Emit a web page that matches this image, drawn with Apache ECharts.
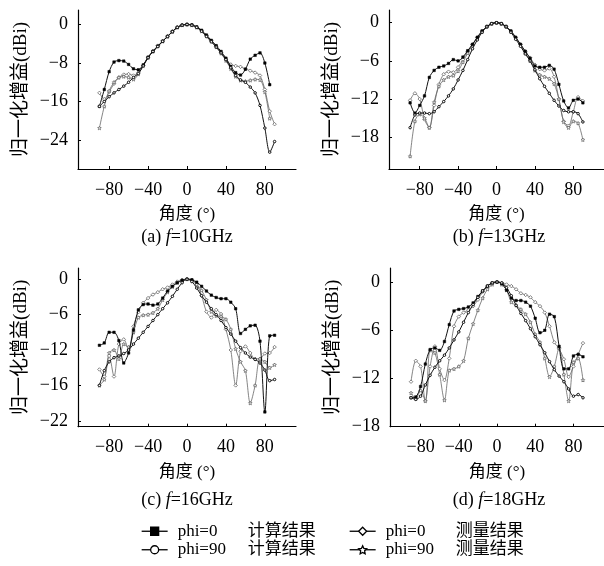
<!DOCTYPE html>
<html><head><meta charset="utf-8">
<script src="https://cdn.jsdelivr.net/npm/echarts@6/dist/echarts.min.js"></script>
<style>html,body{margin:0;padding:0;background:#fff}#c{width:604px;height:566px}</style>
</head><body><div id="c"></div>
<script>
const angles = [-90,-85,-80,-75,-70,-65,-60,-55,-50,-45,-40,-35,-30,-25,-20,-15,-10,-5,0,5,10,15,20,25,30,35,40,45,50,55,60,65,70,75,80,85,90];
const xTicks = [-80,-40,0,40,80];

// (a) f=10GHz
const a_calc0  = [-17,-13.5,-9.8,-7.8,-7.5,-7.6,-8.3,-9.2,-9.4,-8.4,-6.8,-5.6,-4.5,-3.5,-2.5,-1.5,-0.6,-0.15,0,-0.1,-0.5,-1.2,-2.2,-3.3,-4.4,-5.6,-7.0,-8.7,-10.0,-10.5,-9.3,-7.2,-6.4,-5.9,-8.0,-12.5,null];
const a_calc90 = [-17,-16,-15,-14.2,-13.5,-12.8,-12,-11,-10.2,-8.6,-6.9,-5.6,-4.6,-3.5,-2.5,-1.5,-0.6,-0.15,0,-0.15,-0.6,-1.4,-2.5,-3.6,-4.7,-5.9,-7.3,-9.0,-10.6,-11.5,-12.0,-13.0,-14.2,-16.8,-21.5,-26.5,-24.3];
const a_meas0  = [-14.2,-15.5,-14,-12.3,-11,-10.4,-10.3,-10.6,-10,-8.5,-6.8,-5.5,-4.4,-3.4,-2.4,-1.4,-0.6,-0.15,0,-0.15,-0.6,-1.3,-2.3,-3.4,-4.5,-5.8,-7.2,-8.3,-8.6,-8.8,-9.2,-9.6,-10,-10.6,-13.5,-18,-20.7];
const a_meas90 = [-21.5,-17,-13.8,-12,-11,-10.8,-11,-11.4,-10.3,-8.6,-6.9,-5.6,-4.5,-3.5,-2.5,-1.5,-0.6,-0.15,0,-0.15,-0.6,-1.4,-2.4,-3.5,-4.7,-6.0,-7.5,-9.2,-10.8,-11.6,-11.8,-11.6,-11.4,-11.5,-14,-19.5,null];
const a_yTicks = [0,-8,-16,-24];

// (b) f=13GHz
const b_calc0  = [-12.6,-14.2,-13,-11.5,-8.6,-7.5,-7.0,-6.8,-6.4,-5.8,-6.0,-5.4,-4.4,-3.4,-2.3,-1.3,-0.6,-0.15,0,-0.15,-0.6,-1.3,-2.3,-3.4,-4.5,-5.6,-6.8,-7.0,-7.0,-6.7,-7.3,-9.7,-12.3,-13.4,-12.2,-12.0,-12.6];
const b_calc90 = [-16.5,-14.5,-14.2,-14.2,-14.3,-14,-13.2,-12.4,-11.5,-10.4,-9.0,-7.5,-5.8,-4.1,-2.7,-1.5,-0.65,-0.15,0,-0.15,-0.65,-1.5,-2.6,-3.7,-4.9,-6.0,-7.4,-8.8,-10.0,-11.1,-12.2,-13.1,-13.8,-14.0,-14.0,-14.3,-15.6];
const b_meas0  = [-12.2,-11.1,-12,-15.2,-16.5,-13,-9.7,-8.1,-7.7,-7.8,-7.0,-5.8,-4.5,-3.4,-2.3,-1.3,-0.6,-0.15,0,-0.15,-0.6,-1.3,-2.3,-3.4,-4.5,-5.5,-6.6,-7.3,-7.5,-7.2,-8.5,-12,-15.5,-16.2,-14,-11.7,-12.3];
const b_meas90 = [-21,-15.5,-14.4,-15,-16.5,-12.5,-10,-9,-8.5,-8.3,-7.6,-6.2,-4.8,-3.5,-2.4,-1.4,-0.6,-0.15,0,-0.15,-0.6,-1.4,-2.4,-3.5,-4.8,-6.0,-7.5,-8.2,-8.5,-8.8,-9.6,-12,-15.6,-16.5,-15.5,-15.8,-18.4];
const b_yTicks = [0,-6,-12,-18];

// (c) f=16GHz
const c_calc0  = [-11.2,-10.8,-9.0,-9.0,-10.4,-14.2,-12.5,-8.6,-5.2,-4.3,-4.2,-4.4,-4.2,-3.2,-2.0,-1.2,-0.6,-0.2,0,-0.1,-0.5,-1.2,-2.0,-2.7,-3.1,-3.3,-3.3,-3.9,-5.0,-9.2,-8.5,-7.9,-7.8,-10.5,-22.5,-9.6,-9.5];
const c_calc90 = [-18,-15.5,-14,-13.3,-13.0,-12.6,-12.0,-11.0,-10.0,-9.0,-8.0,-7.0,-6.0,-5.0,-4.0,-2.9,-1.7,-0.6,0,-0.4,-1.5,-2.8,-3.9,-5.0,-6.0,-7.0,-8.2,-9.3,-10.5,-11.6,-12.5,-13.2,-13.6,-14.2,-15.4,-17.2,-17.0];
const c_meas0  = [-15.3,-16.5,-13,-16.5,-11,-10.2,-12,-8,-5.6,-4.0,-3.2,-2.6,-2.2,-1.7,-1.4,-0.9,-0.4,-0.1,0,-0.1,-0.8,-2.8,-5.5,-6.5,-5.2,-5.9,-8.5,-12,-18,-12.2,-11.4,-12.5,-13.5,-13.5,-12.6,-12.5,-11.5];
const c_meas90 = [-18,-17,-12.5,-12,-13.5,-11.0,-11.5,-9.0,-6.5,-6.1,-6.0,-5.7,-5.0,-3.5,-2.2,-1.3,-0.6,-0.2,0,-0.2,-0.9,-1.9,-3.5,-5.5,-6.2,-6.3,-6.8,-8.5,-11.8,-14,-15.5,-21,-18,-13.5,-14,-15,-14.5];
const c_yTicks = [0,-6,-12,-18,-24];
const c_yTickLabels = ['0','−6','−12','−16','−22'];

// (d) f=18GHz
const d_calc0  = [-14.4,-14.3,-13.0,-10.2,-8.4,-8.2,-8.5,-7.4,-5.3,-3.6,-3.4,-3.3,-3.1,-2.6,-1.8,-1.1,-0.5,-0.1,0,-0.2,-1.0,-2.0,-2.3,-2.3,-2.5,-3.0,-4.5,-6.3,-6.0,-4.0,-4.3,-8.0,-10.8,-10.8,-9.2,-9.0,-9.3];
const d_calc90 = [-14.4,-14.6,-14.2,-12.8,-11.6,-10.6,-9.8,-9.1,-8.2,-7.2,-6.2,-5.0,-3.8,-2.8,-1.9,-1.1,-0.5,-0.1,0,-0.1,-0.7,-1.7,-2.9,-3.9,-4.8,-5.8,-6.8,-7.8,-8.8,-9.9,-10.9,-11.7,-12.4,-13.3,-14.2,-14.0,-14.4];
const d_meas0  = [-12.4,-9.8,-10.5,-14.8,-10.5,-8.0,-10.8,-12.2,-9.5,-5.5,-4.3,-3.8,-3.5,-3.0,-2.2,-1.2,-0.5,-0.1,0,-0.1,-0.3,-0.5,-0.9,-1.4,-1.6,-1.9,-2.5,-3.0,-3.8,-5.5,-7.5,-8.3,-9.6,-11.8,-10.5,-9.0,-7.6];
const d_meas90 = [-13.8,-14.5,-13.5,-14.8,-8.5,-8.8,-11.5,-14.7,-11,-10.8,-10.5,-9.8,-7.0,-5.2,-3.5,-2.0,-0.9,-0.3,0,-0.3,-1.0,-2.5,-2.9,-3.4,-4.0,-5.0,-6.5,-7.5,-9.5,-11.8,-10.5,-8.2,-11.5,-14.8,-10.0,-9.5,-12.2];
const d_yTicks = [0,-6,-12,-18];

const captions = ['(a) {i|f}=10GHz','(b) {i|f}=13GHz','(c) {i|f}=16GHz','(d) {i|f}=18GHz'];
const seriesNames = ['phi=0 计算结果','phi=90 计算结果','phi=0 测量结果','phi=90 测量结果'];

const SERIF = "'Liberation Serif','Noto Sans CJK SC',serif";
const fmtNum = v => (v < 0 ? '−' + Math.abs(v) : String(v));
const STAR = 'path://M0,-10 L2.9,-4 L9.5,-3.1 L4.7,1.5 L5.9,8.1 L0,5 L-5.9,8.1 L-4.7,1.5 L-9.5,-3.1 L-2.9,-4 Z';

const panels = [
  {grid:{left:78, top:10, width:218, height:159}, ymin:-30, ymax:3, ticks:a_yTicks, labels:null, data:[a_calc0,a_calc90,a_meas0,a_meas90], cap:[187,237]},
  {grid:{left:389, top:10, width:219.4, height:159}, ymin:-23, ymax:2, ticks:b_yTicks, labels:null, data:[b_calc0,b_calc90,b_meas0,b_meas90], cap:[499,237]},
  {grid:{left:78, top:268, width:218, height:158.7}, ymin:-25, ymax:1.9, ticks:c_yTicks, labels:c_yTickLabels, data:[c_calc0,c_calc90,c_meas0,c_meas90], cap:[187,500]},
  {grid:{left:390, top:268, width:218.6, height:158.7}, ymin:-18, ymax:1.75, ticks:d_yTicks, labels:null, data:[d_calc0,d_calc90,d_meas0,d_meas90], cap:[499,500]}
];

const styles = [
  {symbol:'rect', symbolSize:2.5, itemStyle:{color:'#000', borderColor:'#000', borderWidth:0.5}, lineStyle:{color:'#111', width:1}},
  {symbol:'circle', symbolSize:2.5, itemStyle:{color:'#fff', borderColor:'#111', borderWidth:1}, lineStyle:{color:'#111', width:1}},
  {symbol:'diamond', symbolSize:3.5, itemStyle:{color:'#fff', borderColor:'#666', borderWidth:0.8}, lineStyle:{color:'#666', width:0.8}},
  {symbol:STAR, symbolSize:3.5, itemStyle:{color:'#fff', borderColor:'#666', borderWidth:0.8}, lineStyle:{color:'#666', width:0.8}}
];

const grid=[], xAxis=[], yAxis=[], series=[], graphic=[];
panels.forEach((p, gi) => {
  grid.push(p.grid);
  xAxis.push({type:'value', gridIndex:gi, min:-112, max:112,
    axisLine:{onZero:false, lineStyle:{color:'#000', width:1.2}},
    axisTick:{inside:true, length:3, customValues:xTicks, lineStyle:{color:'#000'}},
    axisLabel:{customValues:xTicks, formatter:fmtNum, margin:12, fontSize:18, color:'#000', fontFamily:SERIF},
    splitLine:{show:false},
    name:'角度 (°)', nameLocation:'middle', nameGap:37,
    nameTextStyle:{fontSize:17, color:'#000', fontFamily:SERIF}});
  yAxis.push({type:'value', gridIndex:gi, min:p.ymin, max:p.ymax,
    axisLine:{show:true, onZero:false, lineStyle:{color:'#000', width:1.2}},
    axisTick:{show:true, inside:true, length:3, customValues:p.ticks, lineStyle:{color:'#000'}},
    axisLabel:{customValues:p.ticks, margin:10, fontSize:18, color:'#000', fontFamily:SERIF,
      formatter: p.labels ? (v => p.labels[p.ticks.indexOf(v)]) : fmtNum},
    splitLine:{show:false},
    name:'归一化增益(dBi)', nameLocation:'middle', nameGap:47,
    nameTextStyle:{fontSize:19, color:'#000', fontFamily:SERIF}});
  p.data.forEach((vals, si) => {
    const st = styles[si];
    series.push(Object.assign({
      type:'line', name:seriesNames[si], xAxisIndex:gi, yAxisIndex:gi,
      data: angles.map((a, i) => [a, vals[i]]),
      smooth:0.3, connectNulls:false, showSymbol:true, animation:false, z: si < 2 ? 3 : 2
    }, st));
  });
  graphic.push({type:'text', x:p.cap[0], y:p.cap[1],
    style:{text:captions[gi], fill:'#000', font:"18px 'Liberation Serif',serif", align:'center', verticalAlign:'middle',
      rich:{i:{fontStyle:'italic', fontSize:18, fontFamily:'Liberation Serif'}}}});
});

const legendCommon = {
  orient:'vertical', itemWidth:26, itemHeight:10, itemGap:0, height:60, padding:0,
  lineStyle:{color:'#000', width:1.3},
  itemStyle:{borderColor:'#000', borderWidth:1.3},
  textStyle:{fontSize:17, color:'#000', fontFamily:SERIF, lineHeight:18.5,
    rich:{a:{width:70, fontSize:17, lineHeight:18.5, fontFamily:SERIF, padding:[0,0,0,5]}, b:{fontSize:17, lineHeight:18.5, fontFamily:SERIF}}},
  formatter: n => { const parts = n.split(' '); return '{a|' + parts[0] + '}{b|' + parts[1] + '}'; }
};
const legend = [
  Object.assign({left:141, top:522, data:[seriesNames[0], seriesNames[1]]}, legendCommon),
  Object.assign({left:349, top:522, data:[seriesNames[2], seriesNames[3]]}, legendCommon)
];

const chart = echarts.init(document.getElementById('c'), null, {renderer:'canvas', width:604, height:566});
chart.setOption({backgroundColor:'#fff', animation:false, grid, xAxis, yAxis, series, legend, graphic});
</script></body></html>
